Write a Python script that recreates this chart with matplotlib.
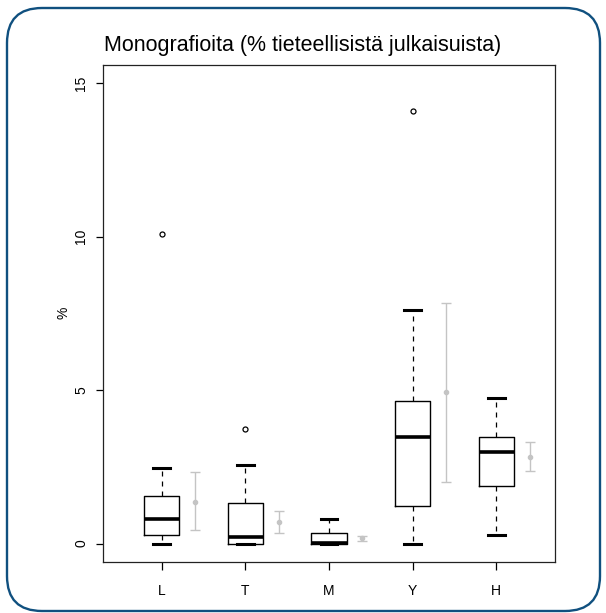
import matplotlib
matplotlib.use("Agg")
import matplotlib.pyplot as plt
from matplotlib.patches import FancyBboxPatch
from matplotlib.transforms import IdentityTransform

plt.rcParams["font.family"] = ["Liberation Sans", "DejaVu Sans"]

# boxplot summaries per field
labels = ["L", "T", "M", "Y", "H"]
medians = [0.81, 0.23, 0.02, 3.46, 2.99]
q1 = [0.28, 0.0, 0.0, 1.24, 1.87]
q3 = [1.55, 1.31, 0.35, 4.64, 3.46]
whis_lo = [0.0, 0.0, 0.0, 0.0, 0.27]
whis_hi = [2.45, 2.55, 0.80, 7.60, 4.75]
outliers = [[10.08], [3.74], [], [14.1], []]

# mean with confidence interval
means = [1.37, 0.71, 0.17, 4.94, 2.82]
ci_lo = [0.44, 0.35, 0.09, 2.02, 2.36]
ci_hi = [2.32, 1.07, 0.25, 7.83, 3.30]

W, H = 606, 613
fig = plt.figure(figsize=(W / 100, H / 100), dpi=100)
ax = fig.add_axes([103.3 / W, 1 - 562 / H, 451.4 / W, 497 / H])

stats = []
for i, lab in enumerate(labels):
    stats.append(dict(label=lab, med=medians[i], q1=q1[i], q3=q3[i],
                      whislo=whis_lo[i], whishi=whis_hi[i], fliers=outliers[i]))

pos = list(range(1, len(labels) + 1))
ax.bxp(stats, positions=pos, widths=0.42, showfliers=True, patch_artist=False,
       boxprops=dict(color="black", linewidth=1.0),
       medianprops=dict(color="black", linewidth=2.6, solid_capstyle="butt"),
       whiskerprops=dict(color="black", linewidth=0.9, linestyle=(0, (4, 4))),
       capprops=dict(color="black", linewidth=2.2),
       capwidths=0.2,
       flierprops=dict(marker="o", markersize=3.6, markerfacecolor="none",
                       markeredgecolor="black", markeredgewidth=0.9))

xe = [p + 0.4 for p in pos]
yerr = [[m - lo for m, lo in zip(means, ci_lo)], [hi - m for m, hi in zip(means, ci_hi)]]
ax.errorbar(xe, means, yerr=yerr, fmt="o", color="#c4c4c4", ecolor="#c4c4c4",
            markersize=3, elinewidth=1.0, capsize=3.3, capthick=1.0)

ax.set_xlim(0.3, 5.7)
ax.set_ylim(-0.6, 15.6)
ax.set_xticks(pos)
ax.set_xticklabels(labels, fontsize=10)
ax.set_yticks([0, 5, 10, 15])
ax.set_yticklabels(["0", "5", "10", "15"], fontsize=10, rotation=90, va="center")
ax.tick_params(axis="x", length=6, width=0.9, pad=10)
ax.tick_params(axis="y", length=5, width=0.9, pad=6)
for s in ax.spines.values():
    s.set_linewidth(0.9)
    s.set_color("#222222")

fig.text(64 / W, 1 - 313 / H, "%", rotation=90, ha="center", va="center", fontsize=10)
fig.text(0.5, 1 - 45 / H, "Monografioita (% tieteellisistä julkaisuista)",
         ha="center", va="center", fontsize=15.5)

# rounded frame around the whole figure
frame = FancyBboxPatch((7, 2), 593, 603, boxstyle="round,pad=0,rounding_size=35",
                       transform=IdentityTransform(), fill=False,
                       edgecolor="#10507f", linewidth=1.7)
fig.patches.append(frame)

fig.savefig("out.png", dpi=100)
